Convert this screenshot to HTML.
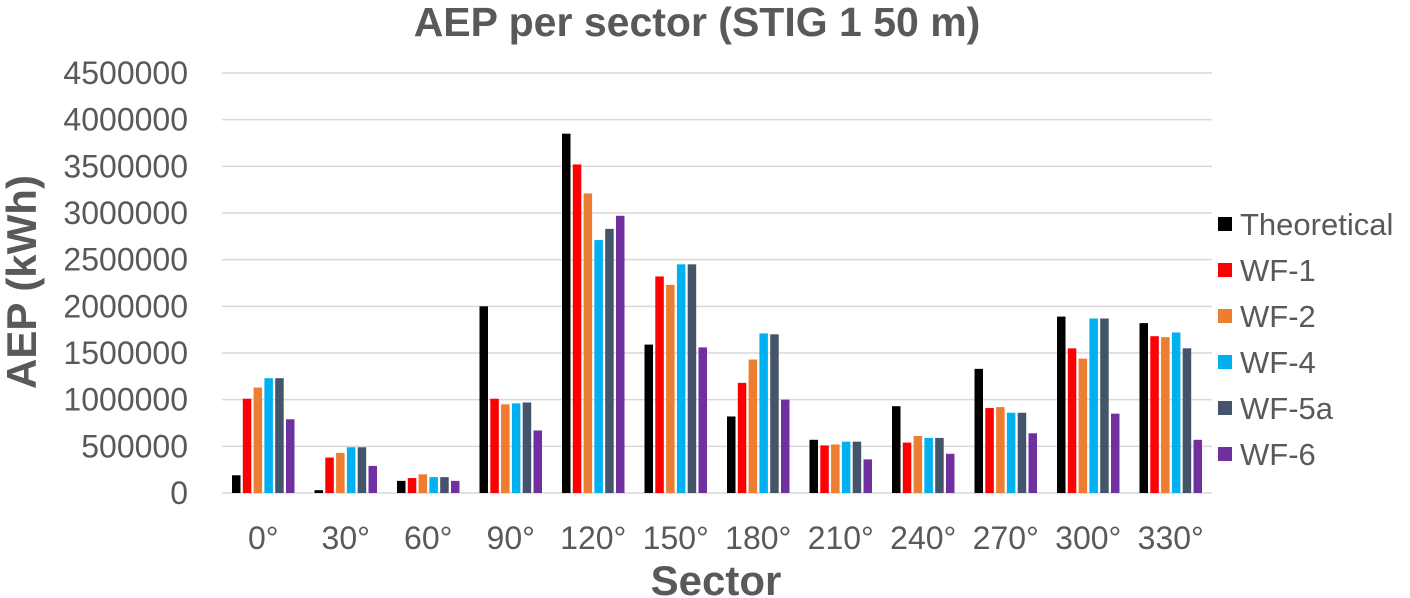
<!DOCTYPE html>
<html><head><meta charset="utf-8"><style>
body{margin:0;background:#fff;}
svg{display:block;font-family:"Liberation Sans",Arial,sans-serif;}
</style></head><body>
<svg id="chart" width="1410" height="598">
<text x="697" y="36" text-anchor="middle" font-size="41" font-weight="bold" fill="#595959">AEP per sector (STIG 1 50 m)</text>
<text transform="translate(36,282) rotate(-90)" text-anchor="middle" font-size="42" font-weight="bold" fill="#595959">AEP (kWh)</text>
<text x="716" y="595" text-anchor="middle" font-size="42" font-weight="bold" fill="#595959">Sector</text>
<g id="grid"></g><g id="bars"></g><g id="legend"></g>
</svg>
<script>
const categories=["0°","30°","60°","90°","120°","150°","180°","210°","240°","270°","300°","330°"];
const seriesNames=["Theoretical","WF-1","WF-2","WF-4","WF-5a","WF-6"];
const theoretical=[190000,30000,130000,2000000,3850000,1590000,820000,570000,930000,1330000,1890000,1820000];
const wf1=[1010000,380000,160000,1010000,3520000,2320000,1180000,510000,540000,910000,1550000,1680000];
const wf2=[1130000,430000,200000,950000,3210000,2230000,1430000,520000,610000,920000,1440000,1670000];
const wf4=[1230000,490000,170000,960000,2710000,2450000,1710000,550000,590000,860000,1870000,1720000];
const wf5a=[1230000,490000,170000,970000,2830000,2450000,1700000,550000,590000,860000,1870000,1550000];
const wf6=[790000,290000,130000,670000,2970000,1560000,1000000,360000,420000,640000,850000,570000];
const yTicks=[0,500000,1000000,1500000,2000000,2500000,3000000,3500000,4000000,4500000];
const yTickLabels=["0","500000","1000000","1500000","2000000","2500000","3000000","3500000","4000000","4500000"];
const colors=["#000000","#ff0000","#ed7d31","#00b0f0","#44546a","#7030a0"];
const series=[theoretical,wf1,wf2,wf4,wf5a,wf6];
const NS="http://www.w3.org/2000/svg";
const x0=222,x1=1212,yb=493,yt=73,ymax=4500000;
const y=v=>yb-(v/ymax)*(yb-yt);
const cw=(x1-x0)/categories.length;
const grid=document.getElementById('grid'),bars=document.getElementById('bars'),legend=document.getElementById('legend');
function mk(t,a,p){const e=document.createElementNS(NS,t);for(const k in a)e.setAttribute(k,a[k]);p.appendChild(e);return e;}
yTicks.forEach((v,i)=>{
 const l=mk('line',{x1:x0,x2:x1,y1:y(v),y2:y(v),stroke:'#d9d9d9','stroke-width':1.5},grid);
 
 
 const t=mk('text',{x:188,y:y(v)+11,'text-anchor':'end','font-size':32,fill:'#595959'},grid);
 t.textContent=yTickLabels[i];
 
 
});
const bw=8.5,pitch=10.8;
categories.forEach((c,ci)=>{
 const cx=x0+cw*(ci+0.5);
 series.forEach((s,si)=>{
  const bx=cx-pitch*2.5+si*pitch-bw/2;
  const r=mk('rect',{x:bx,y:y(s[ci]),width:bw,height:yb-y(s[ci]),fill:colors[si]},bars);
  
  
 });
 const t=mk('text',{x:cx,y:549,'text-anchor':'middle','font-size':32,fill:'#595959'},grid);
 t.textContent=c;
 
 
});
seriesNames.forEach((n,i)=>{
 const yy=224+i*46;
 const r=mk('rect',{x:1218,y:yy-7,width:14,height:14,fill:colors[i]},legend);
 
 
 const t=mk('text',{x:1240,y:yy+11,'font-size':31,fill:'#595959'},legend);
 t.textContent=n;
 
 
});
</script>
</body></html>
